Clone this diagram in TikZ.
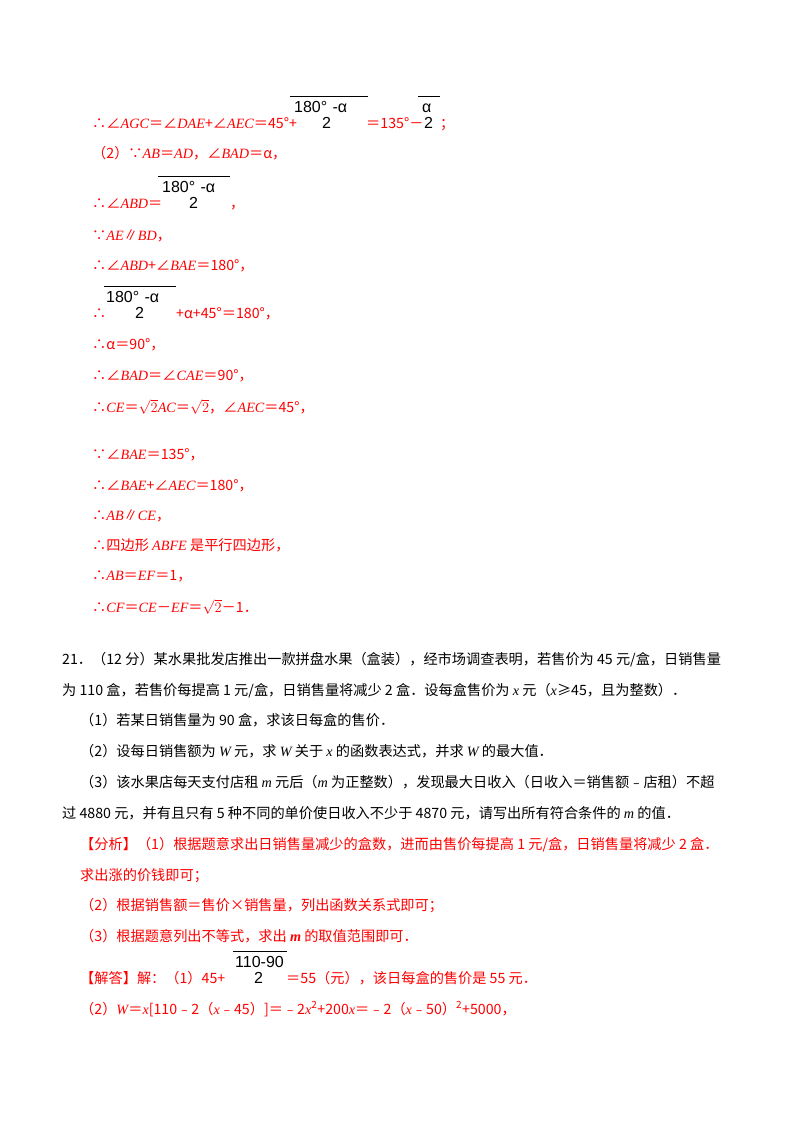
\documentclass[tikz,border=0pt]{standalone}
\usepackage{fontspec}
\setmainfont{Liberation Serif}
\newfontfamily\cjk{Noto Sans CJK SC}
\newfontfamily\lsf{Liberation Sans}
\newfontfamily\lserif{Liberation Serif}
\newcommand{\vv}[1]{{\lserif\itshape #1}}
\newcommand{\bvv}[1]{{\lserif\bfseries\itshape #1}}
\newcommand{\rt}{$\sqrt{2}$}
\definecolor{ans}{RGB}{255,0,0}
\begin{document}
\begin{tikzpicture}[x=1pt,y=-1pt,
  t/.style={anchor=base west,inner sep=0pt,font=\cjk\fontsize{14.2}{14}\selectfont},
  r/.style={t,text=ans},
  fr/.style={anchor=base west,inner sep=0pt,font=\lsf\fontsize{16}{16}\selectfont}]
\useasboundingbox (0,0) rectangle (800,1132);
\node[r] (l1) at (92,128) {∴∠\vv{AGC}＝∠\vv{DAE}+∠\vv{AEC}＝45°+};
\draw[line width=0.6pt] (290,96) -- (368,96);
\node[fr] (f1n) at (294,112) {180°\,\,-α};
\node[fr] (f1d) at (322,128) {2};
\node[r] (l1b) at (366,128) {＝135°－};
\draw[line width=0.6pt] (418,96) -- (440,96);
\node[fr] (f2n) at (422,112) {α};
\node[fr] (f2d) at (424,128) {2};
\node[r] (l1c) at (440,128) {；};
\node[r] (l2) at (92,158) {（2）∵\vv{AB}＝\vv{AD}，∠\vv{BAD}＝α，};
\node[r] (l3) at (92,208) {∴∠\vv{ABD}＝};
\draw[line width=0.6pt] (158,176) -- (230,176);
\node[fr] (f3n) at (162,192) {180°\,\,-α};
\node[fr] (f3d) at (189,208) {2};
\node[r] (l3b) at (230,208) {，};
\node[r] (l4) at (92,240) {∵\vv{AE}∥\vv{BD}，};
\node[r] (l5) at (92,270) {∴∠\vv{ABD}+∠\vv{BAE}＝180°，};
\node[r] (l6) at (92,318) {∴};
\draw[line width=0.6pt] (104,286) -- (176,286);
\node[fr] (f4n) at (106,302) {180°\,\,-α};
\node[fr] (f4d) at (135,318) {2};
\node[r] (l6b) at (176,318) {+α+45°＝180°，};
\node[r] (l7) at (92,349) {∴α＝90°，};
\node[r] (l8) at (92,380) {∴∠\vv{BAD}＝∠\vv{CAE}＝90°，};
\node[r] (l9) at (92,412) {∴\vv{CE}＝\rt\vv{AC}＝\rt，∠\vv{AEC}＝45°，};
\node[r] (l10) at (92,459) {∵∠\vv{BAE}＝135°，};
\node[r] (l11) at (92,490) {∴∠\vv{BAE}+∠\vv{AEC}＝180°，};
\node[r] (l12) at (92,520) {∴\vv{AB}∥\vv{CE}，};
\node[r] (l13) at (92,550) {∴四边形 \vv{ABFE} 是平行四边形，};
\node[r] (l14) at (92,580) {∴\vv{AB}＝\vv{EF}＝1，};
\node[r] (l15) at (92,612) {∴\vv{CF}＝\vv{CE}－\vv{EF}＝\rt－1．};
\node[t] (q1) at (62,664) {21．（12 分）某水果批发店推出一款拼盘水果（盒装），经市场调查表明，若售价为 45 元/盒，日销售量};
\node[t] (q2) at (62,695) {为 110 盒，若售价每提高 1 元/盒，日销售量将减少 2 盒．设每盒售价为 \vv{x} 元（\vv{x}≥45，且为整数）．};
\node[t] (q3) at (80,725) {（1）若某日销售量为 90 盒，求该日每盒的售价．};
\node[t] (q4) at (80,756) {（2）设每日销售额为 \vv{W} 元，求 \vv{W} 关于 \vv{x} 的函数表达式，并求 \vv{W} 的最大值．};
\node[t] (q5) at (80,787) {（3）该水果店每天支付店租 \vv{m} 元后（\vv{m} 为正整数），发现最大日收入（日收入＝销售额﹣店租）不超};
\node[t] (q6) at (62,818) {过 4880 元，并有且只有 5 种不同的单价使日收入不少于 4870 元，请写出所有符合条件的 \vv{m} 的值．};
\node[r] (a1) at (80,849) {【分析】（1）根据题意求出日销售量减少的盒数，进而由售价每提高 1 元/盒，日销售量将减少 2 盒．};
\node[r] (a2) at (80,880) {求出涨的价钱即可；};
\node[r] (a3) at (80,910) {（2）根据销售额＝售价×销售量，列出函数关系式即可；};
\node[r] (a4) at (80,941) {（3）根据题意列出不等式，求出 \bvv{m} 的取值范围即可．};
\node[r] (s1) at (80,983) {【解答】解：（1）45+};
\draw[line width=0.6pt] (233,951) -- (287,951);
\node[fr] (f5n) at (235,967) {110-90};
\node[fr] (f5d) at (254,983) {2};
\node[r] (s1b) at (286,983) {＝55（元），该日每盒的售价是 55 元．};
\node[r] (s2) at (80,1014) {（2）\vv{W}＝\vv{x}[110﹣2（\vv{x}﹣45）]＝﹣2\vv{x}\textsuperscript{2}+200\vv{x}＝﹣2（\vv{x}﹣50）\textsuperscript{2}+5000，};
\end{tikzpicture}
\end{document}
